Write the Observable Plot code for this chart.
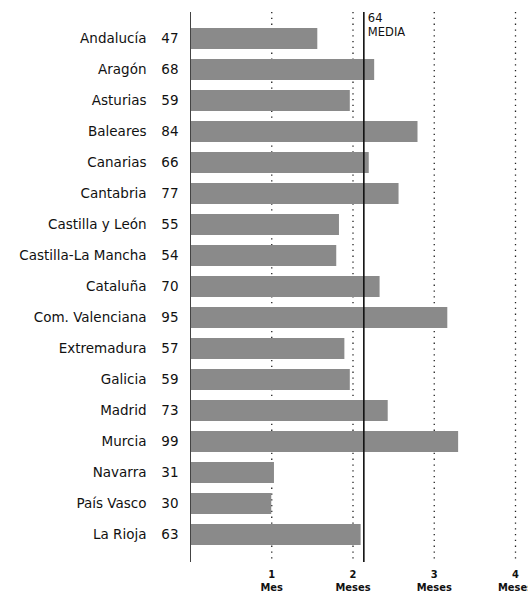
<!DOCTYPE html>
<html>
<head>
<meta charset="utf-8">
<script src="https://cdn.jsdelivr.net/npm/d3@7"></script>
<script src="https://cdn.jsdelivr.net/npm/@observablehq/plot@0.6"></script>
<style>
  body { margin: 0; background: #fff; }
  #chart svg { display: block; }
</style>
</head>
<body>
<div id="chart"></div>
<script>
const regions = ["Andalucía","Aragón","Asturias","Baleares","Canarias","Cantabria","Castilla y León","Castilla-La Mancha","Cataluña","Com. Valenciana","Extremadura","Galicia","Madrid","Murcia","Navarra","País Vasco","La Rioja"];
const days = [47,68,59,84,66,77,55,54,70,95,57,59,73,99,31,30,63];
const media = 64;
const tickDays = [30,60,90,120];
const tickLabels = ["1\nMes","2\nMeses","3\nMeses","4\nMeses"];

const data = regions.map((r,i) => ({region: r, days: days[i]}));

const chart = Plot.plot({
  width: 528,
  height: 600,
  marginLeft: 190,
  marginRight: 13,
  marginTop: 12,
  marginBottom: 38,
  style: {fontFamily: "'DejaVu Sans', sans-serif", background: "#fff"},
  x: {domain: [0,120], label: null},
  y: {domain: regions, padding: 0.31, axis: null},
  marks: [
    Plot.ruleX(tickDays, {stroke: "#222", strokeWidth: 1.3, strokeDasharray: "1.3,4.5"}),
    Plot.barX(data, {x: "days", y: "region", fill: "#8a8a8a"}),
    Plot.ruleX([0], {stroke: "#444", strokeWidth: 1}),
    Plot.ruleX([media], {stroke: "#111", strokeWidth: 1.6}),
    Plot.text([media], {x: (d) => d, text: (d) => d + "\nMEDIA", frameAnchor: "top", textAnchor: "start", lineAnchor: "top", lineHeight: 1.2, dx: 4, dy: 0, fontSize: 11.5, fill: "#111"}),
    Plot.text(data, {y: "region", text: "region", frameAnchor: "left", textAnchor: "end", dx: -44, fontSize: 13.5, fill: "#111"}),
    Plot.text(data, {y: "region", text: "days", frameAnchor: "left", textAnchor: "end", dx: -12, fontSize: 13.5, fill: "#111"}),
    Plot.axisX({ticks: tickDays, tickFormat: (d) => tickLabels[tickDays.indexOf(d)], tickSize: 0, tickPadding: 7, lineHeight: 1.15, fontSize: 11, fontWeight: "bold", fontFamily: "'DejaVu Sans Condensed', sans-serif", fill: "#111", label: null})
  ]
});
document.getElementById("chart").appendChild(chart);
</script>
</body>
</html>
